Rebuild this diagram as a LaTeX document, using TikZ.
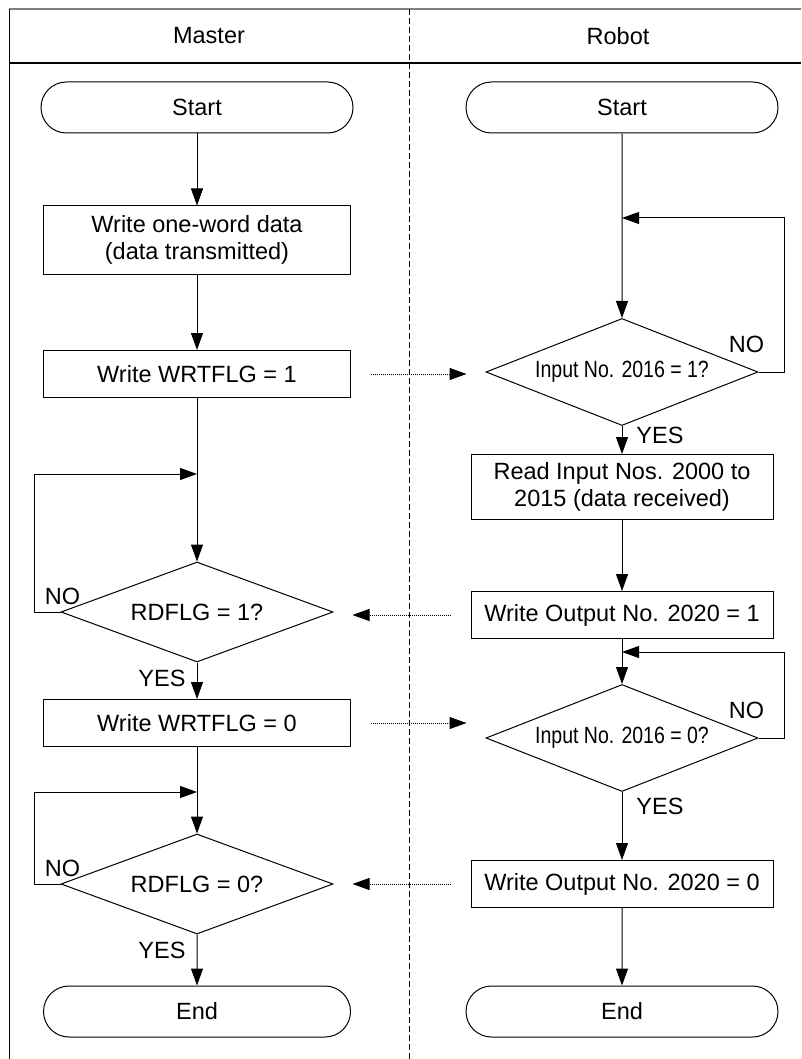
\documentclass[tikz,border=0pt]{standalone}
\usepackage{fontspec}
\setmainfont{Liberation Sans}
\newfontfamily\narrowsans[FakeStretch=0.83]{Liberation Sans}
\usetikzlibrary{calc, arrows.meta, positioning, shapes.geometric, shapes.misc}

\begin{document}
\begin{tikzpicture}[x=1pt, y=-1pt, font=\fontsize{23.5}{27}\selectfont, line width=1pt]
      % Styles
      \tikzset{terminal/.style={draw, rounded rectangle, minimum width=312pt, minimum height=51pt, inner sep=0pt}}
      \tikzset{procbox/.style={draw, rectangle, minimum width=307pt, minimum height=47pt, align=center, inner sep=0pt}}
      \tikzset{decision/.style={draw, diamond, aspect=2.7, minimum width=272pt, minimum height=100pt, inner sep=0pt}}
      \tikzset{flow/.style={-{Triangle[length=17pt, width=12pt]}}}
      \tikzset{signal/.style={flow, densely dotted, shorten <=20pt, shorten >=19pt}}
      \tikzset{branch/.style={inner sep=0pt}}

      \useasboundingbox (0,0) rectangle (801,1059);

      % --- Frame and lane headers ---
      \draw[gray, line width=1.3pt] (9,9) -- (801,9);
      \draw (9,9) -- (9,1059);
      \draw[line width=1.5pt] (9,63) -- (801,63);
      \draw[dash pattern=on 6pt off 3pt] (409,9) -- (409,1059);
      \node (hmaster) at (209,36) {Master};
      \node (hrobot) at (618,36) {Robot};

      % --- Master lane ---
      \node[terminal] (start_m) at (197,107.5) {Start};
      \node[procbox, minimum height=68pt] (data_m) at (197,240) {Write one-word data\\(data transmitted)};
      \node[procbox] (wrt1_m) at (197,374) {Write WRTFLG = 1};
      \node[decision] (rd1_m) at (197,612) {RDFLG = 1?};
      \node[procbox] (wrt0_m) at (197,723) {Write WRTFLG = 0};
      \node[decision] (rd0_m) at (197,884) {RDFLG = 0?};
      \node[terminal, minimum width=307pt] (end_m) at (197,1011.5) {End};
      \coordinate (j1_m) at (197,474);
      \coordinate (j2_m) at (197,792);

      % --- Robot lane ---
      \node[terminal] (start_r) at (622,107.5) {Start};
      \node[decision, minimum height=107pt] (in1_r) at (622,372) {\narrowsans Input No. 2016 = 1?};
      \node[procbox, minimum width=302pt, minimum height=65pt] (read_r) at (622,487) {Read Input Nos. 2000 to\\2015 (data received)};
      \node[procbox, minimum width=302pt] (out1_r) at (622,615) {Write Output No. 2020 = 1};
      \node[decision, minimum height=107pt] (in0_r) at (622,738) {\narrowsans Input No. 2016 = 0?};
      \node[procbox, minimum width=302pt] (out0_r) at (622,884) {Write Output No. 2020 = 0};
      \node[terminal] (end_r) at (622,1011.5) {End};
      \coordinate (j1_r) at (622,218);
      \coordinate (j2_r) at (622,652);

      % --- Master flow ---
      \draw[flow] (start_m) -- (data_m);
      \draw[flow] (data_m) -- (wrt1_m);
      \draw[flow] (wrt1_m) -- (rd1_m);
      \draw[flow] (rd1_m.west) -- ++(-26,0) |- (j1_m);
      \draw[flow] (rd1_m) -- (wrt0_m);
      \draw[flow] (wrt0_m) -- (rd0_m);
      \draw[flow] (rd0_m.west) -- ++(-26,0) |- (j2_m);
      \draw[flow] (rd0_m) -- (end_m);
      \node[branch] (no1_m) at ($(rd1_m.west)+(2,-16)$) {NO};
      \node[branch] (yes1_m) at ($(rd1_m.south)+(-35,16)$) {YES};
      \node[branch] (no2_m) at ($(rd0_m.west)+(2,-16)$) {NO};
      \node[branch] (yes2_m) at ($(rd0_m.south)+(-35,16)$) {YES};

      % --- Robot flow ---
      \draw[flow] (start_r) -- (in1_r);
      \draw[flow] (in1_r.east) -- ++(26,0) |- (j1_r);
      \draw[flow] (in1_r) -- (read_r);
      \draw[flow] (read_r) -- (out1_r);
      \draw[flow] (out1_r) -- (in0_r);
      \draw[flow] (in0_r.east) -- ++(26,0) |- (j2_r);
      \draw[flow] (in0_r) -- (out0_r);
      \draw[flow] (out0_r) -- (end_r);
      \node[branch] (no1_r) at ($(in1_r.east)+(-12,-28)$) {NO};
      \node[branch] (yes1_r) at ($(in1_r.south)+(38,9)$) {YES};
      \node[branch] (no2_r) at ($(in0_r.east)+(-12,-28)$) {NO};
      \node[branch] (yes2_r) at ($(in0_r.south)+(38,14)$) {YES};

      % --- Handshake signals between lanes ---
      \draw[signal] (wrt1_m.east) -- (wrt1_m.east -| in1_r.west);
      \draw[signal] (out1_r.west) -- (out1_r.west -| rd1_m.east);
      \draw[signal] (wrt0_m.east) -- (wrt0_m.east -| in0_r.west);
      \draw[signal] (out0_r.west) -- (out0_r.west -| rd0_m.east);
\end{tikzpicture}
\end{document}
